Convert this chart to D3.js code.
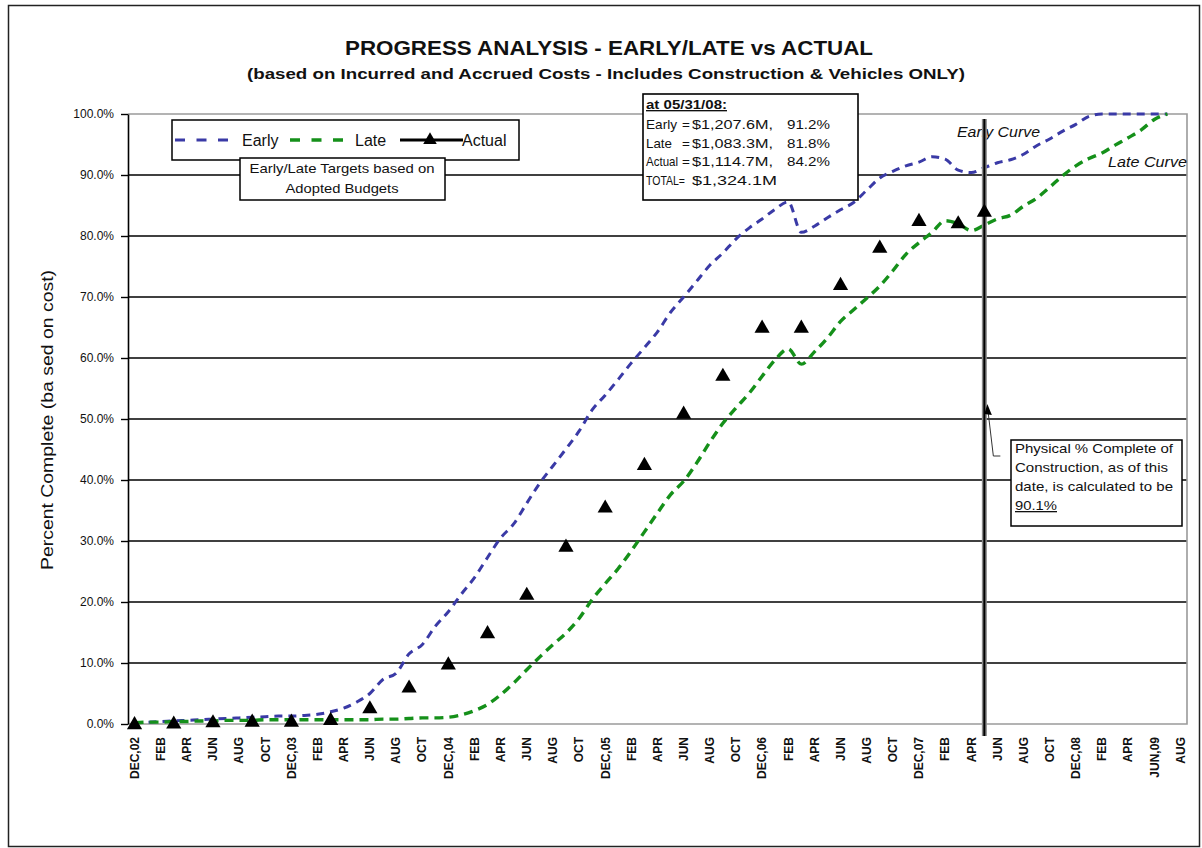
<!DOCTYPE html>
<html><head><meta charset="utf-8">
<script src="https://cdn.jsdelivr.net/npm/d3@7"></script>
<style>
body{margin:0;background:#fff}
svg{display:block}
text{font-family:'Liberation Sans',Arial,sans-serif;fill:#111}
</style>
</head><body>
<svg id="c" width="1202" height="848"></svg>
<script>
// ---------------- DATA ----------------
const months = [
 "Dec02",
 "Jan03","Feb03","Mar03","Apr03","May03","Jun03","Jul03","Aug03","Sep03","Oct03","Nov03","Dec03",
 "Jan04","Feb04","Mar04","Apr04","May04","Jun04","Jul04","Aug04","Sep04","Oct04","Nov04","Dec04",
 "Jan05","Feb05","Mar05","Apr05","May05","Jun05","Jul05","Aug05","Sep05","Oct05","Nov05","Dec05",
 "Jan06","Feb06","Mar06","Apr06","May06","Jun06","Jul06","Aug06","Sep06","Oct06","Nov06","Dec06",
 "Jan07","Feb07","Mar07","Apr07","May07","Jun07","Jul07","Aug07","Sep07","Oct07","Nov07","Dec07",
 "Jan08","Feb08","Mar08","Apr08","May08","Jun08","Jul08","Aug08","Sep08","Oct08","Nov08","Dec08",
 "Jan09","Feb09","Mar09","Apr09","May09","Jun09","Jul09","Aug09"
];
const tickLabels = [
 "DEC,02","FEB","APR","JUN","AUG","OCT",
 "DEC,03","FEB","APR","JUN","AUG","OCT",
 "DEC,04","FEB","APR","JUN","AUG","OCT",
 "DEC,05","FEB","APR","JUN","AUG","OCT",
 "DEC,06","FEB","APR","JUN","AUG","OCT",
 "DEC,07","FEB","APR","JUN","AUG","OCT",
 "DEC,08","FEB","APR","JUN,09","AUG"
];
// Early curve, monthly from Dec02 (percent complete)
const earlyValues = [
 0.2,0.3,0.4,0.5,0.6,0.7,0.8,0.9,1.0,1.1,
 1.2,1.3,1.3,1.4,1.6,2.0,2.6,3.6,5.0,7.3,
 8.3,11.5,13.0,16.0,18.4,21.3,24.0,27.3,30.5,32.8,
 36.2,39.5,42.3,45.1,48.0,51.5,53.9,56.5,59.2,61.7,
 64.3,67.5,70.0,72.6,75.2,77.2,79.5,81.3,82.8,84.4,
 85.6,80.6,81.6,83.0,84.3,85.5,87.5,89.5,90.6,91.5,
 92.1,93.0,92.6,90.8,90.4,91.2,92.0,92.5,93.4,94.8,
 95.9,97.2,98.3,99.6,100,100,100,100,100,100
];
// Late curve, monthly from Dec02
const lateValues = [
 0.2,0.3,0.3,0.4,0.4,0.5,0.5,0.6,0.6,0.6,
 0.7,0.7,0.7,0.7,0.7,0.7,0.7,0.7,0.7,0.8,
 0.8,0.9,1.0,1.0,1.1,1.5,2.2,3.2,4.8,6.7,
 8.9,11.0,13.0,14.9,17.3,20.4,23.0,25.5,28.4,31.5,
 34.6,37.6,39.8,42.8,46.2,49.3,51.8,54.2,57.0,59.7,
 61.5,59.0,61.0,63.3,66.0,67.9,69.8,71.8,74.3,77.0,
 78.9,80.6,82.5,82.0,80.9,81.8,82.8,83.4,84.9,86.2,
 88.0,89.9,91.5,92.7,93.6,94.9,96.1,97.4,99.1,100
];
const actualMonths = ["Dec02","Mar03","Jun03","Sep03","Dec03","Mar04","Jun04","Sep04","Dec04",
 "Mar05","Jun05","Sep05","Dec05","Mar06","Jun06","Sep06","Dec06","Mar07","Jun07","Sep07","Dec07","Mar08","May08"];
const actualValues = [0.2,0.3,0.5,0.6,0.6,0.9,2.8,6.2,10.0,15.1,21.4,29.3,35.7,42.7,51.1,57.3,65.2,65.2,72.2,78.3,82.7,82.3,84.2];
const yTicks = [0,10,20,30,40,50,60,70,80,90,100];
const statusMonth = "May08";
const infoLines = [
 ["Early","=","$1,207.6M,","91.2%"],
 ["Late","=","$1,083.3M,","81.8%"],
 ["Actual","=","$1,114.7M,","84.2%"]
];

// ---------------- CHART ----------------
(function () {
const svg = d3.select("#c");
const pL = 128, pR = 1187, pT = 114, pB = 724;
const x = d3.scaleBand().domain(months).range([pL, pR]).padding(0);
const xc = m => x(m) + x.bandwidth() / 2;
const y = d3.scaleLinear().domain([0, 100]).range([pB, pT]);
const narrow = "'Liberation Sans Narrow','Arial Narrow','Liberation Sans',Arial,sans-serif";

// outer frame
svg.append("rect").attr("x", 8.5).attr("y", 5.5).attr("width", 1191).attr("height", 841)
  .attr("fill", "none").attr("stroke", "#222").attr("stroke-width", 1.5);

// titles
svg.append("text").attr("x", 609).attr("y", 55).attr("text-anchor", "middle")
  .attr("textLength", 528).attr("lengthAdjust", "spacingAndGlyphs")
  .style("font-size", "20px").style("font-weight", "bold")
  .text("PROGRESS ANALYSIS - EARLY/LATE vs ACTUAL");
svg.append("text").attr("x", 606).attr("y", 79).attr("text-anchor", "middle")
  .attr("textLength", 718).attr("lengthAdjust", "spacingAndGlyphs")
  .style("font-size", "15px").style("font-weight", "bold")
  .text("(based on Incurred and Accrued Costs - Includes Construction & Vehicles ONLY)");

// gridlines
svg.append("g").selectAll("line").data(yTicks.filter(t => t > 0 && t < 100)).join("line")
  .attr("x1", pL).attr("x2", pR).attr("y1", d => y(d)).attr("y2", d => y(d))
  .attr("stroke", "#000").attr("stroke-width", 1.4);

// plot border (top, right, bottom)
svg.append("path").attr("d", `M${pL},${y(100)}H${pR}V${y(0)}H${pL}`)
  .attr("fill", "none").attr("stroke", "#9a9a9a").attr("stroke-width", 1.6);

// y axis
const gy = svg.append("g").attr("transform", `translate(${pL},0)`)
  .call(d3.axisLeft(y).tickValues(yTicks).tickSize(7).tickSizeOuter(0).tickPadding(7)
    .tickFormat(d => d.toFixed(1) + "%"));
gy.select(".domain").attr("stroke", "#000").attr("stroke-width", 1.6);
gy.selectAll(".tick line").attr("stroke", "#000").attr("stroke-width", 1.4);
gy.selectAll("text").style("font-size", "12px").style("font-family", "'Liberation Sans',Arial,sans-serif");

// x axis
const gx = svg.append("g").attr("transform", `translate(0,${pB})`)
  .call(d3.axisBottom(x).tickValues(months.filter((m, i) => i % 2 === 0))
    .tickFormat(m => tickLabels[months.indexOf(m) / 2]).tickSize(0).tickSizeOuter(0));
gx.select(".domain").remove();
gx.selectAll("text").attr("transform", "rotate(-90)").attr("text-anchor", "end")
  .attr("x", -13).attr("y", 0).attr("dy", "0.36em")
  .style("font-size", "12px").style("font-weight", "bold");

// y axis title
svg.append("text").attr("transform", "translate(53,420) rotate(-90)").attr("text-anchor", "middle")
  .attr("textLength", 300).attr("lengthAdjust", "spacingAndGlyphs")
  .style("font-size", "16px").text("Percent Complete (ba sed on cost)");

// curves
const line = d3.line().x((d, i) => xc(months[i])).y(d => y(d)).curve(d3.curveMonotoneX);
svg.append("path").datum(earlyValues).attr("d", line).attr("fill", "none")
  .attr("stroke", "#3a3aa6").attr("stroke-width", 3).attr("stroke-dasharray", "8,6");
svg.append("path").datum(lateValues).attr("d", line).attr("fill", "none")
  .attr("stroke", "#15901a").attr("stroke-width", 3.4).attr("stroke-dasharray", "9,6");

// curve labels
svg.append("text").attr("x", 957).attr("y", 137).attr("textLength", 83).attr("lengthAdjust", "spacingAndGlyphs")
  .style("font-size", "14px").style("font-style", "italic").text("Early Curve");
svg.append("text").attr("x", 1108).attr("y", 167).attr("textLength", 79).attr("lengthAdjust", "spacingAndGlyphs")
  .style("font-size", "14px").style("font-style", "italic").text("Late Curve");

// status date vertical line
const sx = xc(statusMonth);
svg.append("line").attr("x1", sx).attr("x2", sx).attr("y1", 119).attr("y2", 736)
  .attr("stroke", "#8a8a8a").attr("stroke-width", 5);
svg.append("line").attr("x1", sx).attr("x2", sx).attr("y1", 119).attr("y2", 736)
  .attr("stroke", "#000").attr("stroke-width", 2);

// actual markers
svg.append("g").selectAll("path").data(actualMonths).join("path")
  .attr("d", d3.symbol(d3.symbolTriangle, 100))
  .attr("transform", (m, i) => `translate(${xc(m)},${y(actualValues[i]) + 2})`)
  .attr("fill", "#000");

// legend
const lg = svg.append("g");
lg.append("rect").attr("x", 172).attr("y", 120).attr("width", 347).attr("height", 40)
  .attr("fill", "#fff").attr("stroke", "#000").attr("stroke-width", 1.5);
lg.append("line").attr("x1", 175).attr("x2", 229).attr("y1", 140).attr("y2", 140)
  .attr("stroke", "#3a3aa6").attr("stroke-width", 3.2).attr("stroke-dasharray", "10,11.5");
lg.append("text").attr("x", 242).attr("y", 146).style("font-size", "16px").text("Early");
lg.append("line").attr("x1", 290).attr("x2", 343).attr("y1", 140).attr("y2", 140)
  .attr("stroke", "#15901a").attr("stroke-width", 3.4).attr("stroke-dasharray", "10,11.5");
lg.append("text").attr("x", 355).attr("y", 146).style("font-size", "16px").text("Late");
lg.append("line").attr("x1", 400).attr("x2", 463).attr("y1", 140).attr("y2", 140)
  .attr("stroke", "#000").attr("stroke-width", 3);
lg.append("path").attr("d", d3.symbol(d3.symbolTriangle, 80)).attr("transform", "translate(430,140)").attr("fill", "#000");
lg.append("text").attr("x", 462).attr("y", 146).style("font-size", "16px").text("Actual");

// sub box
svg.append("rect").attr("x", 240).attr("y", 158).attr("width", 205).attr("height", 42)
  .attr("fill", "#fff").attr("stroke", "#000").attr("stroke-width", 1.5);
svg.append("text").attr("x", 342).attr("y", 172.5).attr("text-anchor", "middle")
  .attr("textLength", 185).attr("lengthAdjust", "spacingAndGlyphs")
  .style("font-size", "13px").style("font-family", narrow).text("Early/Late Targets based on");
svg.append("text").attr("x", 342).attr("y", 192.5).attr("text-anchor", "middle")
  .attr("textLength", 113).attr("lengthAdjust", "spacingAndGlyphs")
  .style("font-size", "13px").style("font-family", narrow).text("Adopted Budgets");

// info box
svg.append("rect").attr("x", 643).attr("y", 94).attr("width", 215).attr("height", 106)
  .attr("fill", "#fff").attr("stroke", "#000").attr("stroke-width", 1.6);
const ib = svg.append("g").style("font-size", "13.5px");
ib.append("text").attr("x", 646).attr("y", 109).attr("textLength", 81).attr("lengthAdjust", "spacingAndGlyphs")
  .style("font-weight", "bold").style("text-decoration", "underline").text("at 05/31/08:");
const labW = [31, 26, 32];
infoLines.forEach((r, i) => {
  const yy = 129 + i * 18.5;
  ib.append("text").attr("x", 646).attr("y", yy).attr("textLength", labW[i]).attr("lengthAdjust", "spacingAndGlyphs").text(r[0]);
  ib.append("text").attr("x", 682).attr("y", yy).text(r[1]);
  ib.append("text").attr("x", 692).attr("y", yy).attr("textLength", 81).attr("lengthAdjust", "spacingAndGlyphs").text(r[2]);
  ib.append("text").attr("x", 787).attr("y", yy).attr("textLength", 43).attr("lengthAdjust", "spacingAndGlyphs").text(r[3]);
});
ib.append("text").attr("x", 646).attr("y", 184.5).attr("textLength", 39).attr("lengthAdjust", "spacingAndGlyphs").text("TOTAL=");
ib.append("text").attr("x", 692).attr("y", 184.5).attr("textLength", 85).attr("lengthAdjust", "spacingAndGlyphs").text("$1,324.1M");

// physical % box with arrow
svg.append("path").attr("d", `M${sx + 16},456 L${sx + 9},456 L${sx + 4},414`)
  .attr("fill", "none").attr("stroke", "#333").attr("stroke-width", 1);
svg.append("path").attr("d", `M${sx + 3},404 L${sx + 7.5},415 L${sx},414 Z`).attr("fill", "#000");
svg.append("rect").attr("x", 1011).attr("y", 440).attr("width", 171).attr("height", 86)
  .attr("fill", "#fff").attr("stroke", "#000").attr("stroke-width", 1.5);
const pb = svg.append("g").style("font-size", "13px").style("font-family", narrow);
[["Physical % Complete of", 158], ["Construction, as of this", 153], ["date, is calculated to be", 158]]
  .forEach((r, i) => {
    pb.append("text").attr("x", 1015).attr("y", 453 + i * 19).attr("textLength", r[1])
      .attr("lengthAdjust", "spacingAndGlyphs").text(r[0]);
  });
pb.append("text").attr("x", 1015).attr("y", 510).attr("textLength", 42).attr("lengthAdjust", "spacingAndGlyphs")
  .style("text-decoration", "underline").text("90.1%");
})();
</script>
</body></html>
